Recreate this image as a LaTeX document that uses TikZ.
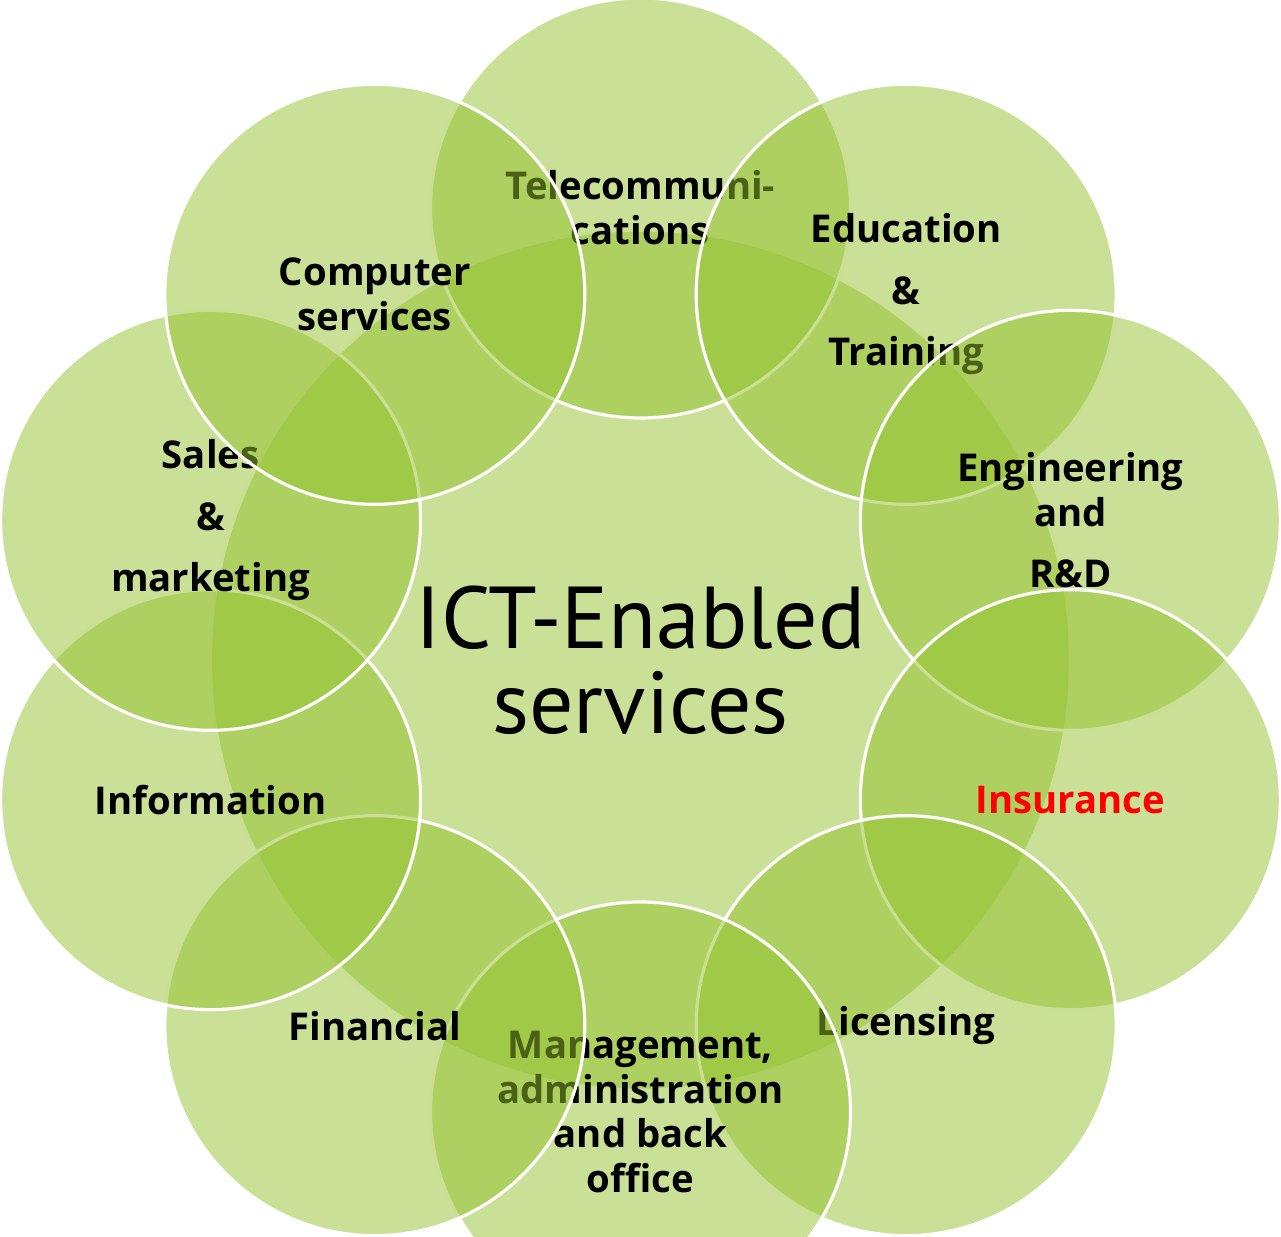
\documentclass[tikz,border=0pt]{standalone}
\usepackage{fontspec}
\setmainfont{PT Sans}
\newfontfamily\labelfont{Open Sans}

\definecolor{leafgreen}{RGB}{147,193,45}
\definecolor{alertred}{RGB}{255,0,0}

\tikzset{
    petal/.style={circle, minimum size=8.4cm, inner sep=0pt,
        fill=leafgreen, fill opacity=0.5, text opacity=1,
        draw=white, line width=1.8pt, align=center,
        font=\labelfont\bfseries\fontsize{21.8}{25.5}\selectfont},
    hub/.style={petal, minimum size=17.2cm,
        font=\rmfamily\mdseries\fontsize{50}{48.2}\selectfont}
}

\begin{document}
\begin{tikzpicture}

    \useasboundingbox (-12.81,-11.54) rectangle (12.81,13.2);

    % Central circle
    \node[hub] (hub) at (0,0) {ICT-Enabled\\services};

    % Outer circles, clockwise from the top
    \node[petal] (telecom) at (90:9.04) {Telecommuni-\\cations};
    \node[petal] (education) at (54:9.04) {Education\\[9.6pt]\&\\[9.6pt]Training};
    \node[petal] (engineering) at (18:9.04) {Engineering\\and\\[9.6pt]R\&D};
    \node[petal, text=alertred] (insurance) at (-18:9.04) {Insurance};
    \node[petal] (licensing) at (-54:9.04) {Licensing};
    \node[petal] (management) at (-90:9.04) {Management,\\administration\\and back\\office};
    \node[petal] (financial) at (-126:9.04) {Financial};
    \node[petal] (information) at (-162:9.04) {Information};
    \node[petal] (sales) at (162:9.04) {Sales\\[9.6pt]\&\\[9.6pt]marketing};
    \node[petal] (computer) at (126:9.04) {Computer\\services};

\end{tikzpicture}
\end{document}
